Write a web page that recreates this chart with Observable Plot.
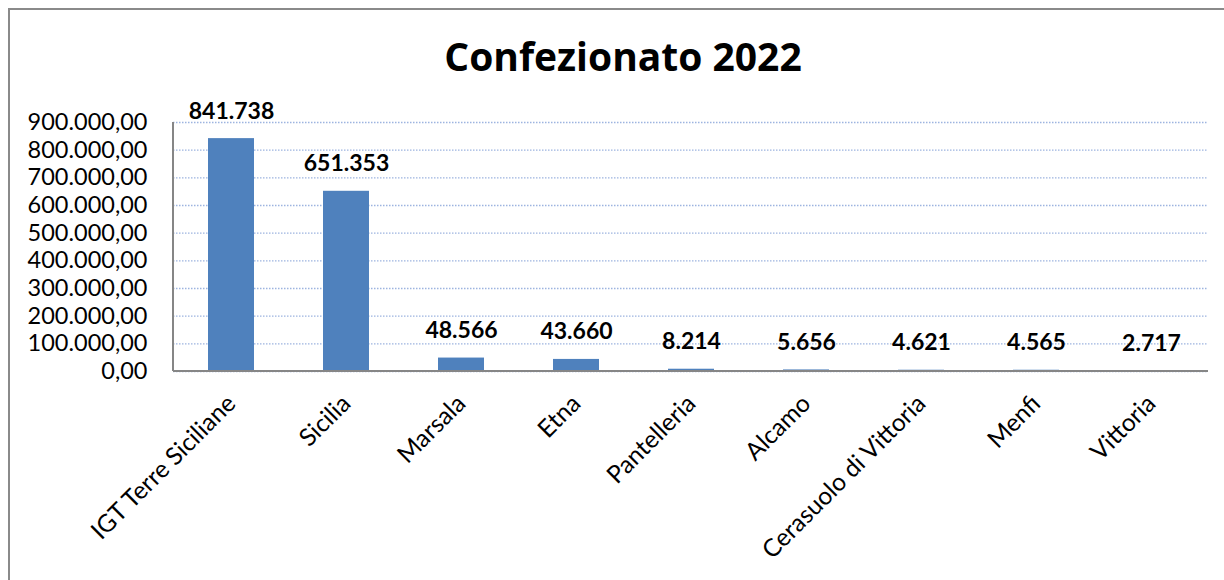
<!DOCTYPE html>
<html>
<head>
<meta charset="utf-8">
<script src="https://cdn.jsdelivr.net/npm/d3@7"></script>
<script src="https://cdn.jsdelivr.net/npm/@observablehq/plot@0.6"></script>
<style>
  html, body { margin: 0; padding: 0; background: #fff; overflow: hidden; }
  #wrap { position: relative; width: 1224px; height: 580px; }
  #frame { position: absolute; left: 8px; top: 8px; width: 1240px; height: 600px; border: 2px solid #8a8a8a; box-sizing: border-box; }
  #title { position: absolute; left: 0; top: 0; width: 1246px; height: 95px; text-align: center;
           font-family: "Open Sans", sans-serif; font-weight: bold; font-size: 39px; line-height: 112px; color: #000; }
  #chart { position: absolute; left: 0; top: 95px; }
</style>
</head>
<body>
<div id="wrap">
  <div id="frame"></div>
  <div id="title">Confezionato 2022</div>
  <div id="chart"></div>
</div>
<script>
const categories = ["IGT Terre Siciliane", "Sicilia", "Marsala", "Etna", "Pantelleria", "Alcamo", "Cerasuolo di Vittoria", "Menfi", "Vittoria"];
const values = [841738, 651353, 48566, 43660, 8214, 5656, 4621, 4565, 2717];
const yTicks = [0, 100000, 200000, 300000, 400000, 500000, 600000, 700000, 800000, 900000];

const it = d3.formatLocale({decimal: ",", thousands: ".", grouping: [3], currency: ["", "€"]});
const fmtAxis = it.format(",.2f");
const fmtVal = it.format(",.0f");

const data = categories.map((c, i) => ({cat: c, val: values[i]}));

const axisLines = (index, scales, values, dimensions) => {
  const {marginLeft, marginTop, marginBottom, height, width, marginRight} = dimensions;
  const g = d3.create("svg:g");
  g.append("line")
    .attr("x1", marginLeft).attr("x2", marginLeft)
    .attr("y1", marginTop).attr("y2", height - marginBottom)
    .attr("stroke", "#868686").attr("stroke-width", 2);
  g.append("line")
    .attr("x1", marginLeft).attr("x2", width - marginRight)
    .attr("y1", height - marginBottom).attr("y2", height - marginBottom)
    .attr("stroke", "#868686").attr("stroke-width", 2);
  return g.node();
};

const chart = Plot.plot({
  width: 1224,
  height: 485,
  marginLeft: 173,
  marginRight: 16,
  marginTop: 27,
  marginBottom: 209,
  style: {fontFamily: "Lato, sans-serif", color: "#000", background: "transparent"},
  x: {domain: categories, paddingInner: 0.6, paddingOuter: 0.3, label: null},
  y: {domain: [0, 900000], label: null},
  marks: [
    Plot.gridY(yTicks, {stroke: "#9db4e0", strokeOpacity: 1, strokeDasharray: "1.5,1.5", strokeWidth: 1.3}),
    Plot.barY(data, {x: "cat", y: "val", fill: "#4f81bd"}),
    axisLines,
    Plot.axisY({ticks: yTicks, tickFormat: fmtAxis, tickSize: 0, tickPadding: 26, fontSize: 23.5, label: null}),
    Plot.axisX({tickRotate: -45, tickSize: 0, tickPadding: 28, fontSize: 24.5, label: null}),
    Plot.text(data, {x: "cat", y: "val", text: d => fmtVal(d.val), lineAnchor: "bottom", dy: -20, fontSize: 23, fontWeight: "bold", fill: "#000"})
  ]
});
document.getElementById("chart").appendChild(chart);
</script>
</body>
</html>
